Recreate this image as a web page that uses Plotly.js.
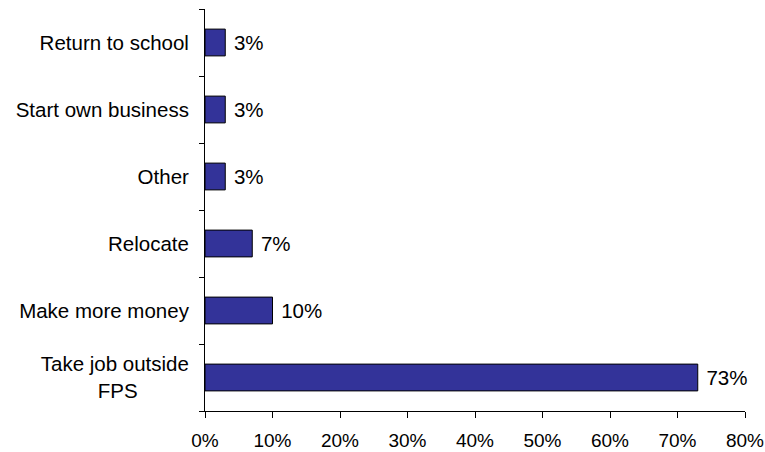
<!DOCTYPE html>
<html>
<head>
<meta charset="utf-8">
<script src="https://cdn.plot.ly/plotly-3.0.1.min.js"></script>
<style>html,body{margin:0;padding:0;background:#fff;}#chart{width:765px;height:452px;}</style>
</head>
<body>
<div id="chart"></div>
<script>
const categories = ["Take job outside<br>FPS\u00a0\u00a0\u00a0\u00a0\u00a0\u00a0\u00a0\u00a0\u00a0", "Make more money", "Relocate", "Other", "Start own business", "Return to school"];
const values = [0.73, 0.10, 0.07, 0.03, 0.03, 0.03];
const xTickVals = [0, 0.1, 0.2, 0.3, 0.4, 0.5, 0.6, 0.7, 0.8];
const xTickText = ["0%", "10%", "20%", "30%", "40%", "50%", "60%", "70%", "80%"];

const font = {family: "Liberation Sans, Arial, sans-serif", size: 20.5, color: "#000"};
const xFont = {family: "Liberation Sans, Arial, sans-serif", size: 19, color: "#000"};

Plotly.newPlot("chart", [{
  type: "bar",
  orientation: "h",
  y: categories,
  x: values,
  width: 0.4,
  marker: {color: "#333399", line: {color: "#000", width: 1}},
  text: values.map(v => "\u00a0" + Math.round(v * 100) + "%"),
  textposition: "outside",
  cliponaxis: false,
  textfont: font,
  hoverinfo: "none"
}], {
  width: 765,
  height: 452,
  margin: {l: 205, r: 20, t: 9, b: 41},
  paper_bgcolor: "#fff",
  plot_bgcolor: "#fff",
  font: font,
  showlegend: false,
  xaxis: {
    range: [0, 0.8],
    tickvals: xTickVals,
    ticktext: xTickText,
    showgrid: false,
    zeroline: false,
    showline: true,
    linecolor: "#000",
    linewidth: 1,
    ticks: "outside",
    ticklen: 6,
    tickcolor: "#000",
    tickfont: xFont,
    ticklabelstandoff: 6,
    fixedrange: true
  },
  yaxis: {
    type: "category",
    showgrid: false,
    zeroline: false,
    showline: true,
    linecolor: "#000",
    linewidth: 1,
    ticks: "outside",
    tickson: "boundaries",
    ticklen: 5,
    tickcolor: "#000",
    tickfont: font,
    ticklabelstandoff: 11,
    fixedrange: true
  }
}, {staticPlot: true, displayModeBar: false});
</script>
</body>
</html>
